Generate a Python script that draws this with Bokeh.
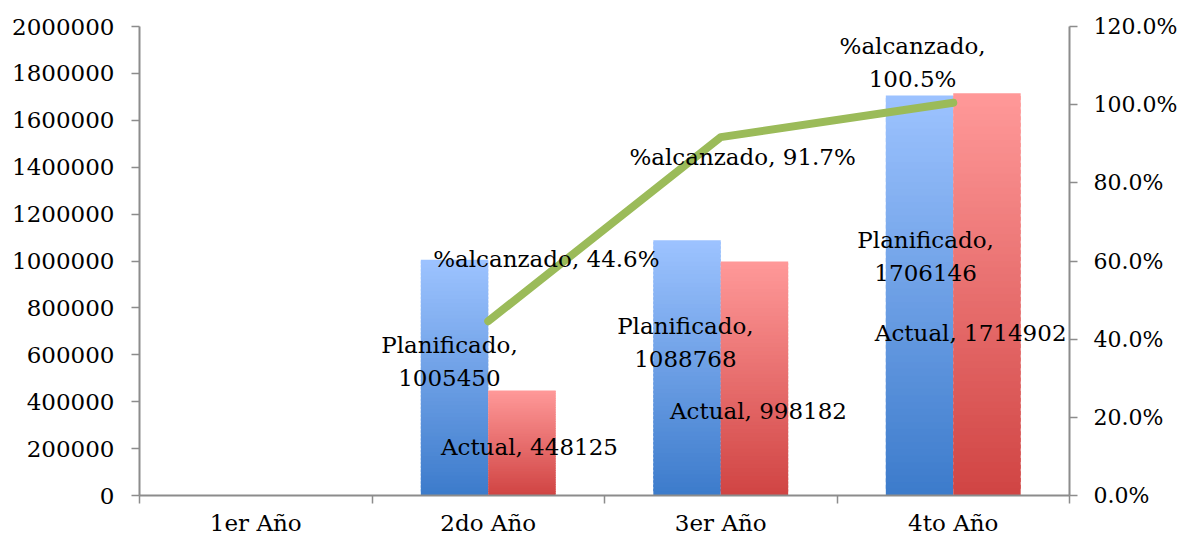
from bokeh.plotting import figure
from bokeh.models import (ColumnDataSource, Range1d, LinearAxis, FixedTicker,
                          NumeralTickFormatter)
from bokeh.core.properties import value
from bokeh.embed import file_html
from bokeh.resources import INLINE

# ---------------- data ----------------
categories = ["1er Año", "2do Año", "3er Año", "4to Año"]
planificado = [None, 1005450, 1088768, 1706146]
actual = [None, 448125, 998182, 1714902]
pct_alcanzado = [None, 0.446, 0.917, 1.005]
left_ticks = [0, 200000, 400000, 600000, 800000, 1000000, 1200000, 1400000,
              1600000, 1800000, 2000000]
right_ticks = [0.0, 0.2, 0.4, 0.6, 0.8, 1.0, 1.2]

# ---------------- style ----------------
FONT = "DejaVu Serif"
FS = "23px"
AXIS_COLOR = "#8c8c8c"
BLUE_TOP, BLUE_BOT = (0x9D, 0xC3, 0xFF), (0x3C, 0x7B, 0xCB)
RED_TOP, RED_BOT = (0xFF, 0x99, 0x99), (0xD0, 0x44, 0x43)
BAR_W = 0.29
OFFSET = 0.145

p = figure(frame_width=930, frame_height=469, output_backend="svg",
           toolbar_location=None,
           x_range=Range1d(-0.5, 3.5), y_range=Range1d(0, 2000000),
           min_border_left=139, min_border_right=113, min_border_top=26,
           min_border_bottom=30, x_axis_location=None, y_axis_location=None)
p.extra_y_ranges = {"pct": Range1d(0, 1.2)}
p.outline_line_color = None
p.xgrid.visible = False
p.ygrid.visible = False
p.background_fill_color = "white"
p.border_fill_color = "white"


def mix(c1, c2, t):
    return "#%02x%02x%02x" % tuple(int(round(a + (b - a) * t)) for a, b in zip(c1, c2))


# gradient bars built as thin slices of each bar
N = 60
xs, bots, tops, cols = [], [], [], []
for series, off, ctop, cbot in [(planificado, -OFFSET, BLUE_TOP, BLUE_BOT),
                                (actual, OFFSET, RED_TOP, RED_BOT)]:
    for i, v in enumerate(series):
        if v is None:
            continue
        for k in range(N):
            xs.append(i + off)
            bots.append(v * k / N)
            tops.append(min(v, v * (k + 1.6) / N))
            cols.append(mix(cbot, ctop, (k + 0.5) / N))
src = ColumnDataSource(dict(x=xs, bottom=bots, top=tops, color=cols))
p.vbar(x="x", bottom="bottom", top="top", width=BAR_W, source=src,
       fill_color="color", line_color=None)

# line on secondary axis
lx = [i for i, v in enumerate(pct_alcanzado) if v is not None]
ly = [v for v in pct_alcanzado if v is not None]
p.line(lx, ly, y_range_name="pct", line_color="#9BBB59", line_width=8,
       line_cap="round", line_join="round")

# data labels
plan_lbl = [f"Planificado,\n{v}" for v in planificado if v is not None]
act_lbl = [f"Actual, {v}" for v in actual if v is not None]
pct_lbl = ["%alcanzado, 44.6%", "%alcanzado, 91.7%", "%alcanzado,\n100.5%"]
plan_pos_x, plan_pos_y = [0.833, 1.848, 2.881], [571000, 652000, 1019000]
act_pos_x, act_pos_y = [1.177, 2.162, 3.075], [205000, 362000, 691000]
pct_pos_x, pct_pos_y = [1.25, 2.094, 2.825], [0.606, 0.865, 1.108]

common = dict(text_font=value(FONT), text_font_size=value(FS), text_color="black",
              text_align="center", text_baseline="middle", text_line_height=1.25)
p.text(plan_pos_x, plan_pos_y, text=plan_lbl, **common)
p.text(act_pos_x, act_pos_y, text=act_lbl, **common)
p.text(pct_pos_x, pct_pos_y, text=pct_lbl, y_range_name="pct", **common)


def style_axis(ax, fs=FS):
    ax.axis_line_color = AXIS_COLOR
    ax.axis_line_width = 2
    ax.major_tick_line_color = AXIS_COLOR
    ax.major_tick_line_width = 1.5
    ax.minor_tick_line_color = None
    ax.major_label_text_font = FONT
    ax.major_label_text_font_size = fs
    ax.major_label_text_color = "black"


left = LinearAxis(ticker=FixedTicker(ticks=left_ticks),
                  formatter=NumeralTickFormatter(format="0"))
style_axis(left)
left.major_tick_out = 8
left.major_tick_in = 0
left.major_label_standoff = 17
p.add_layout(left, "left")

right = LinearAxis(y_range_name="pct", ticker=FixedTicker(ticks=right_ticks),
                   formatter=NumeralTickFormatter(format="0.0%"))
style_axis(right, "22px")
right.major_tick_out = 8
right.major_tick_in = 0
right.major_label_standoff = 16
p.add_layout(right, "right")

bottom = LinearAxis(ticker=FixedTicker(ticks=list(range(len(categories))),
                                       minor_ticks=[-0.5, 0.5, 1.5, 2.5, 3.5]))
style_axis(bottom)
bottom.major_tick_line_color = None
bottom.minor_tick_line_color = AXIS_COLOR
bottom.minor_tick_line_width = 1.5
bottom.minor_tick_out = 8
bottom.minor_tick_in = 0
bottom.major_label_standoff = 6
bottom.major_label_overrides = {i: c for i, c in enumerate(categories)}
p.add_layout(bottom, "below")

open("out.html", "w").write(file_html(p, INLINE))
